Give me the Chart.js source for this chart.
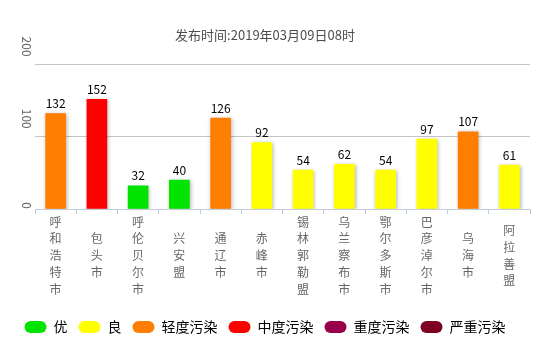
<!DOCTYPE html>
<html>
<head>
<meta charset="utf-8">
<script src="https://cdn.jsdelivr.net/npm/chart.js@4/dist/chart.umd.min.js"></script>
<style>
  html, body { margin: 0; padding: 0; background: #fff; }
  #wrap { width: 541px; height: 344px; }
</style>
</head>
<body>
<div id="wrap"><canvas id="grafica"></canvas></div>
<script>
// Datos
const ciudades = ['呼和浩特市', '包头市', '呼伦贝尔市', '兴安盟', '通辽市', '赤峰市',
                  '锡林郭勒盟', '乌兰察布市', '鄂尔多斯市', '巴彦淖尔市', '乌海市', '阿拉善盟'];
const aqi = [132, 152, 32, 40, 126, 92, 54, 62, 54, 97, 107, 61];
const niveles = ['优', '良', '轻度污染', '中度污染', '重度污染', '严重污染'];
const coloresNivel = ['#00e400', '#ffff00', '#ff7e00', '#ff0000', '#99004c', '#7e0023'];
const limites = [50, 100, 150, 200, 300];
const ticksY = [0, 100, 200];
const titulo = '发布时间:2019年03月09日08时';

function nivelDe(v) {
    let i = 0;
    while (i < limites.length && v > limites[i]) i++;
    return i;
}
const coloresBarra = aqi.map(v => coloresNivel[nivelDe(v)]);

const fuente = "'Noto Sans CJK SC', 'Noto Sans', sans-serif";

// sombra de las barras + etiquetas de valor
const sombra = {
    id: 'sombra',
    beforeDatasetsDraw(chart) {
        const ctx = chart.ctx;
        ctx.save();
        ctx.shadowColor = 'rgba(0,0,0,0.3)';
        ctx.shadowBlur = 4;
        ctx.shadowOffsetX = 1;
        ctx.shadowOffsetY = 1;
    },
    afterDatasetsDraw(chart) {
        chart.ctx.restore();
        const ctx = chart.ctx;
        ctx.save();
        ctx.font = '12px ' + fuente;
        ctx.fillStyle = '#000';
        ctx.textAlign = 'center';
        ctx.textBaseline = 'bottom';
        chart.getDatasetMeta(0).data.forEach((bar, i) => {
            ctx.fillText(aqi[i], bar.x, bar.y - 4);
        });
        ctx.restore();
    }
};

new Chart(document.getElementById('grafica'), {
    type: 'bar',
    data: {
        labels: ciudades.map(c => c.split('')),
        datasets: [{
            data: aqi,
            backgroundColor: coloresBarra,
            barThickness: 20
        }]
    },
    options: {
        responsive: true,
        maintainAspectRatio: false,
        animation: false,
        layout: { padding: { left: 0, right: 11, top: 0, bottom: 0 } },
        plugins: {
            tooltip: { enabled: false },
            title: {
                display: true,
                text: titulo,
                color: '#4d4d4d',
                font: { family: fuente, size: 13, weight: 'normal' },
                padding: { top: 27, bottom: 22 }
            },
            legend: {
                position: 'bottom',
                onClick: null,
                labels: {
                    color: '#333',
                    font: { family: fuente, size: 14 },
                    boxWidth: 22,
                    boxHeight: 12,
                    useBorderRadius: true,
                    borderRadius: 6,
                    padding: 11,
                    generateLabels: () => niveles.map((n, i) => ({
                        text: n,
                        fillStyle: coloresNivel[i],
                        strokeStyle: coloresNivel[i],
                        lineWidth: 0,
                        borderRadius: 6,
                        hidden: false,
                        index: i
                    }))
                }
            }
        },
        scales: {
            x: {
                afterFit: s => { s.height = 100; },
                grid: {
                    drawOnChartArea: false,
                    drawTicks: true,
                    tickLength: 5,
                    color: '#c2cbd9',
                    offset: true
                },
                border: { color: '#c2cbd9' },
                ticks: {
                    color: '#666',
                    font: { family: fuente, size: 12, lineHeight: 1.4 },
                    padding: 8,
                    crossAlign: 'center',
                    maxRotation: 0,
                    autoSkip: false
                }
            },
            y: {
                min: 0,
                max: 200,
                afterBuildTicks: s => { s.ticks = ticksY.map(v => ({ value: v })); },
                afterFit: s => { s.width = 35; },
                grid: { color: '#c4c4c4', drawTicks: false },
                border: { display: false },
                ticks: {
                    color: '#666',
                    font: { family: fuente, size: 12 },
                    padding: 8,
                    minRotation: -90,
                    maxRotation: -90,
                    callback: v => v === 0 ? '0' : v + '   '
                }
            }
        }
    },
    plugins: [sombra]
});
</script>
</body>
</html>
